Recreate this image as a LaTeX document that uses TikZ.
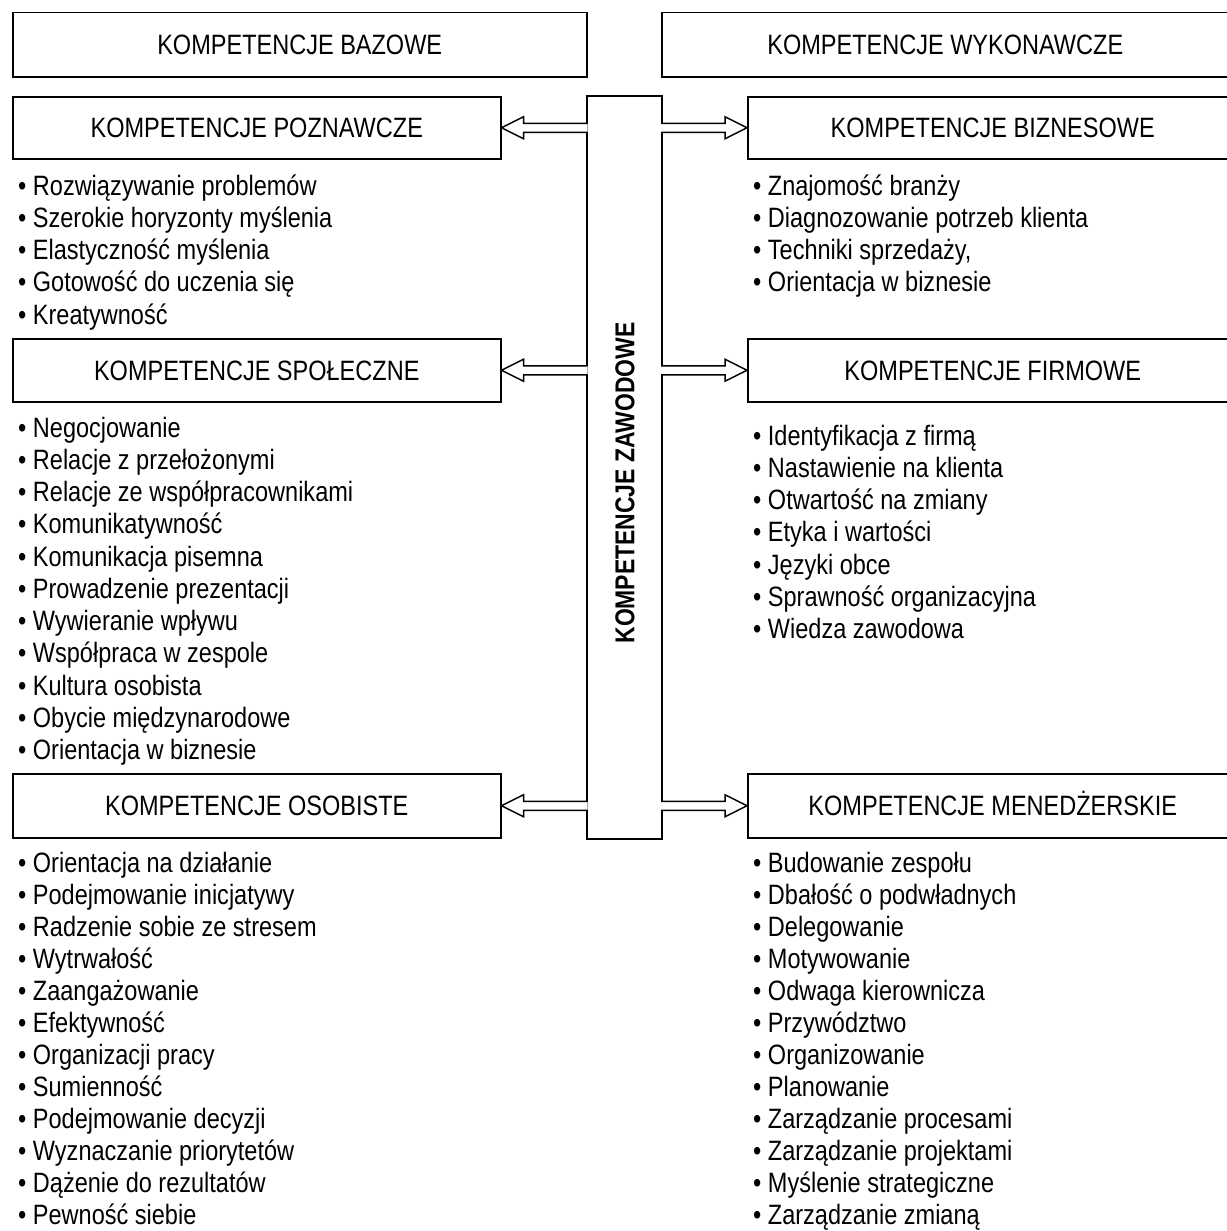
\documentclass[tikz,border=0pt]{standalone}
\usepackage{fontspec}
\setmainfont{Liberation Sans}[FakeStretch=0.84]
\usetikzlibrary{calc}

\tikzset{
  box/.style={draw, line width=1.5pt, fill=white, inner sep=0pt, anchor=north west,
    text height=24pt, text depth=4pt, font=\fontsize{28}{32}\selectfont},
  item/.style={anchor=base west, inner sep=0pt, font=\fontsize{28}{32}\selectfont},
  hollow/.style={draw, fill=white, line width=1.5pt, line join=miter, to path={
    let \p1=(\tikztostart), \p2=(\tikztotarget), \n1={sign(\x2-\x1)} in
    ({\x1-\n1*1.5pt},{\y1+4.5pt}) -- ({\x2-\n1*22pt},{\y1+4.5pt}) -- ({\x2-\n1*22pt},{\y1+11pt})
    -- (\x2,\y2) -- ({\x2-\n1*22pt},{\y1-11pt}) -- ({\x2-\n1*22pt},{\y1-4.5pt})
    -- ({\x1-\n1*1.5pt},{\y1-4.5pt})}}
}

\begin{document}
\begin{tikzpicture}[x=1pt, y=-1pt]
  \useasboundingbox (0,0) rectangle (1226,1231);

  % top row
  \node[box, minimum width=574pt, minimum height=64pt] (baz) at (12,12) {KOMPETENCJE BAZOWE};
  \node[box, minimum width=567pt, minimum height=64pt] (wyk) at (661,12) {KOMPETENCJE WYKONAWCZE};

  % middle column
  \node[box, minimum width=75pt, minimum height=743pt] (zaw) at (586,95) {};
  \node[rotate=90, inner sep=0pt, font=\fontsize{27.3}{32}\selectfont\bfseries] (zawtxt) at (625,483) {KOMPETENCJE ZAWODOWE};

  % left boxes
  \node[box, minimum width=488pt, minimum height=62pt] (pozn) at (12,96) {KOMPETENCJE POZNAWCZE};
  \node[box, minimum width=488pt, minimum height=63pt] (spol) at (12,338) {KOMPETENCJE SPOŁECZNE};
  \node[box, minimum width=488pt, minimum height=64pt] (osob) at (12,773) {KOMPETENCJE OSOBISTE};

  % right boxes
  \node[box, minimum width=490pt, minimum height=62pt] (biz) at (747,96) {KOMPETENCJE BIZNESOWE};
  \node[box, minimum width=490pt, minimum height=63pt] (firm) at (747,338) {KOMPETENCJE FIRMOWE};
  \node[box, minimum width=490pt, minimum height=64pt] (men) at (747,773) {KOMPETENCJE MENEDŻERSKIE};

  % arrows
  \coordinate (zaw-pozn) at (zaw.west |- pozn.east);
  \coordinate (zaw-spol) at (zaw.west |- spol.east);
  \coordinate (zaw-osob) at (zaw.west |- osob.east);
  \coordinate (zaw-biz) at (zaw.east |- biz.west);
  \coordinate (zaw-firm) at (zaw.east |- firm.west);
  \coordinate (zaw-men) at (zaw.east |- men.west);
  \draw[hollow] (zaw-pozn) to (pozn.east);
  \draw[hollow] (zaw-spol) to (spol.east);
  \draw[hollow] (zaw-osob) to (osob.east);
  \draw[hollow] (zaw-biz) to (biz.west);
  \draw[hollow] (zaw-firm) to (firm.west);
  \draw[hollow] (zaw-men) to (men.west);

  % lists
  \foreach \t [count=\i] in {Rozwiązywanie problemów, Szerokie horyzonty myślenia,
      Elastyczność myślenia, Gotowość do uczenia się, Kreatywność}
    \node[item] (pozn-\i) at (18,{195+32.25*(\i-1)}) {• \t};
  \foreach \t [count=\i] in {Negocjowanie, Relacje z przełożonymi, Relacje ze współpracownikami,
      Komunikatywność, Komunikacja pisemna, Prowadzenie prezentacji, Wywieranie wpływu,
      Współpraca w zespole, Kultura osobista, Obycie międzynarodowe, Orientacja w biznesie}
    \node[item] (spol-\i) at (18,{437+32.25*(\i-1)}) {• \t};
  \foreach \t [count=\i] in {Orientacja na działanie, Podejmowanie inicjatywy,
      Radzenie sobie ze stresem, Wytrwałość, Zaangażowanie, Efektywność, Organizacji pracy,
      Sumienność, Podejmowanie decyzji, Wyznaczanie priorytetów, Dążenie do rezultatów,
      Pewność siebie}
    \node[item] (osob-\i) at (18,{872+32.05*(\i-1)}) {• \t};
  \foreach \t [count=\i] in {Znajomość branży, Diagnozowanie potrzeb klienta,
      {Techniki sprzedaży,}, Orientacja w biznesie}
    \node[item] (biz-\i) at (753,{195+32.25*(\i-1)}) {• \t};
  \foreach \t [count=\i] in {Identyfikacja z firmą, Nastawienie na klienta, Otwartość na zmiany,
      Etyka i wartości, Języki obce, Sprawność organizacyjna, Wiedza zawodowa}
    \node[item] (firm-\i) at (753,{445+32.25*(\i-1)}) {• \t};
  \foreach \t [count=\i] in {Budowanie zespołu, Dbałość o podwładnych, Delegowanie, Motywowanie,
      Odwaga kierownicza, Przywództwo, Organizowanie, Planowanie, Zarządzanie procesami,
      Zarządzanie projektami, Myślenie strategiczne, Zarządzanie zmianą}
    \node[item] (men-\i) at (753,{872+32.05*(\i-1)}) {• \t};
\end{tikzpicture}
\end{document}
